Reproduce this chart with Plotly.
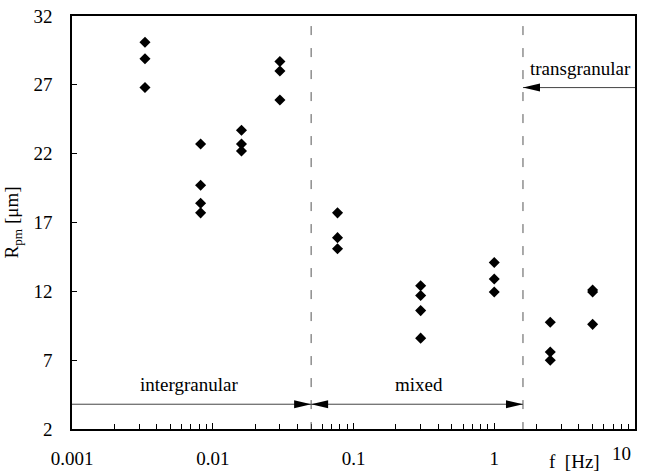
import numpy as np
import plotly.graph_objects as go

# ---- data ----
group_freq = [0.0033, 0.0082, 0.016, 0.030, 0.077, 0.30, 1.0, 2.5, 5.0]
group_rpm = [
    [30.1, 28.9, 26.8],
    [22.7, 19.7, 18.4, 17.7],
    [23.7, 22.7, 22.2],
    [28.7, 28.0, 25.9],
    [17.7, 15.9, 15.1],
    [12.4, 11.7, 10.6, 8.6],
    [14.1, 12.9, 11.95],
    [9.75, 7.6, 7.0],
    [12.1, 11.95, 9.6],
]
x_ticks = [0.001, 0.01, 0.1, 1]
x_ticktext = ["0.001", "0.01", "0.1", "1"]
y_ticks = [2, 7, 12, 17, 22, 27, 32]

f_boundary_1 = 0.05   # intergranular / mixed
f_boundary_2 = 1.6    # mixed / transgranular
arrow_y_low = 3.8
arrow_y_high = 26.8
x_min, x_max = 0.001, 10
y_min, y_max = 2, 32

regions = [
    ("intergranular", 0.0068, 5.2),
    ("mixed", 0.29, 5.2),
    ("transgranular", 4.13, 28.2),
]

# ---- build ----
xs, ys = [], []
for f, vals in zip(group_freq, group_rpm):
    for v in vals:
        xs.append(f)
        ys.append(v)

FONT = "Liberation Serif"
lg = np.log10

fig = go.Figure()
fig.add_trace(go.Scatter(
    x=xs, y=ys, mode="markers",
    marker=dict(symbol="diamond", size=8.5, color="black", line=dict(width=0)),
    showlegend=False, hoverinfo="skip",
))

shapes = []
# dashed boundaries (shapes on log axes take data values)
for fb in (f_boundary_1, f_boundary_2):
    shapes.append(dict(type="line", xref="x", yref="y",
                       x0=fb, x1=fb, y0=y_min - 0.15, y1=y_max,
                       line=dict(color="#555", width=1, dash="9px,13px")))
# arrow lines
seg_color = "#444"
shapes.append(dict(type="line", xref="x", yref="y", x0=x_min, x1=f_boundary_1,
                   y0=arrow_y_low, y1=arrow_y_low, line=dict(color=seg_color, width=1)))
shapes.append(dict(type="line", xref="x", yref="y", x0=f_boundary_1, x1=f_boundary_2,
                   y0=arrow_y_low, y1=arrow_y_low, line=dict(color=seg_color, width=1)))
shapes.append(dict(type="line", xref="x", yref="y", x0=f_boundary_2, x1=x_max,
                   y0=arrow_y_high, y1=arrow_y_high, line=dict(color=seg_color, width=1)))

# arrow heads (pixel-sized triangles anchored at boundary points)
def head(fx, fy, direction):
    L, H = 17, 4
    if direction == "right":
        path = f"M0,0 L{-L},{-H} L{-L},{H} Z"
    else:
        path = f"M0,0 L{L},{-H} L{L},{H} Z"
    return dict(type="path", xref="x", yref="y", xsizemode="pixel", ysizemode="pixel",
                xanchor=fx, yanchor=fy, path=path,
                fillcolor="black", line=dict(width=0))

shapes.append(head(f_boundary_1, arrow_y_low, "right"))
shapes.append(head(f_boundary_1, arrow_y_low, "left"))
shapes.append(head(f_boundary_2, arrow_y_low, "right"))
shapes.append(head(f_boundary_2, arrow_y_high, "left"))

annotations = []
for text, fx, fy in regions:
    annotations.append(dict(x=lg(fx), y=fy, xref="x", yref="y", text=text,
                            showarrow=False, font=dict(family=FONT, size=19, color="black"),
                            xanchor="center", yanchor="middle"))
annotations.append(dict(x=1.0, y=0, xref="paper", yref="paper", text="10", showarrow=False,
                        xanchor="right", yanchor="top", yshift=-12, xshift=-2,
                        font=dict(family=FONT, size=19, color="black")))
annotations.append(dict(x=0.892, y=0, xref="paper", yref="paper", text="f&nbsp;&nbsp;[Hz]",
                        showarrow=False, xanchor="center", yanchor="top", yshift=-20,
                        font=dict(family=FONT, size=19, color="black")))

fig.update_layout(
    width=648, height=475,
    margin=dict(l=72, r=13, t=16, b=46),
    plot_bgcolor="white", paper_bgcolor="white",
    shapes=shapes, annotations=annotations,
    font=dict(family=FONT, size=19, color="black"),
    xaxis=dict(type="log", range=[lg(x_min), lg(x_max)],
               tickvals=x_ticks, ticktext=x_ticktext,
               ticks="inside", ticklen=6, tickcolor="black", tickwidth=1,
               minor=dict(ticks="inside", ticklen=5, dtick="D1", tickcolor="black", showgrid=False),
               showline=True, linecolor="black", linewidth=1.5, mirror=True,
               showgrid=False, zeroline=False, ticklabelstandoff=11, automargin=False),
    yaxis=dict(range=[y_min, y_max], tickvals=y_ticks,
               ticks="inside", ticklen=5, tickcolor="black", tickwidth=1,
               showline=True, linecolor="black", linewidth=1.5, mirror=True,
               showgrid=False, zeroline=False, ticklabelstandoff=14, automargin=False,
               title=dict(text="R<sub>pm</sub> [μm]", standoff=10,
                          font=dict(family=FONT, size=19))),
)

fig.write_html("out.html", config={"displayModeBar": False},
               post_script="document.body.style.margin='0';document.body.style.overflow='hidden';")
